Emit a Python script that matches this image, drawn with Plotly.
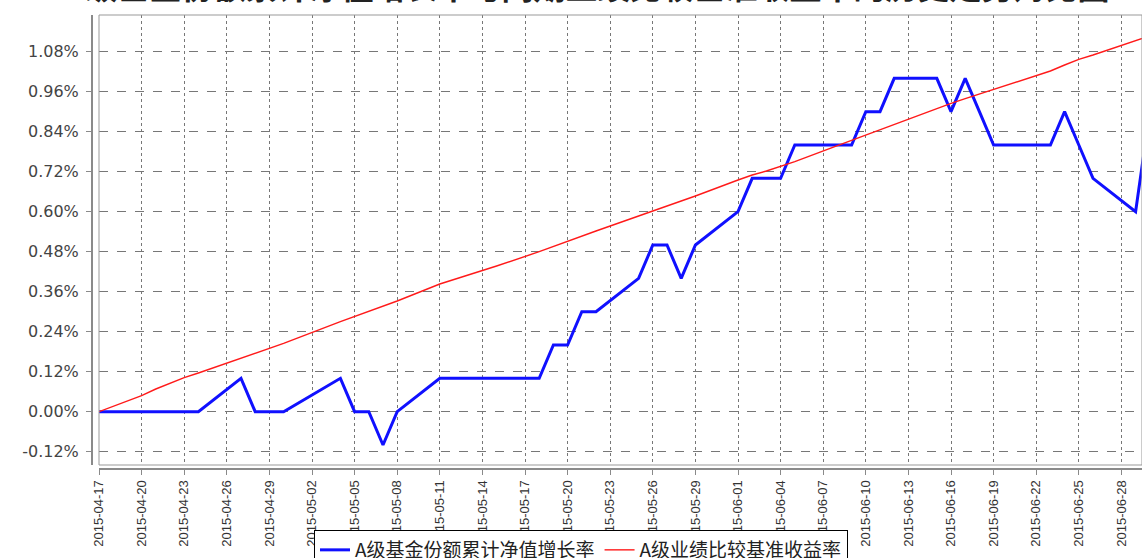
import plotly.graph_objects as go

# ---- data ----
dates = [
    "2015-04-17", "2015-04-20", "2015-04-21", "2015-04-22", "2015-04-23", "2015-04-24",
    "2015-04-27", "2015-04-28", "2015-04-29", "2015-04-30",
    "2015-05-04", "2015-05-05", "2015-05-06", "2015-05-07", "2015-05-08",
    "2015-05-11", "2015-05-12", "2015-05-13", "2015-05-14", "2015-05-15",
    "2015-05-18", "2015-05-19", "2015-05-20", "2015-05-21", "2015-05-22",
    "2015-05-25", "2015-05-26", "2015-05-27", "2015-05-28", "2015-05-29",
    "2015-06-01", "2015-06-02", "2015-06-03", "2015-06-04", "2015-06-05",
    "2015-06-08", "2015-06-09", "2015-06-10", "2015-06-11", "2015-06-12",
    "2015-06-15", "2015-06-16", "2015-06-17", "2015-06-18", "2015-06-19",
    "2015-06-23", "2015-06-24", "2015-06-25", "2015-06-26",
    "2015-06-29", "2015-06-30",
]

fund_nav_growth = [
    0.00, 0.00, 0.00, 0.00, 0.00, 0.00,
    0.10, 0.00, 0.00, 0.00,
    0.10, 0.00, 0.00, -0.10, 0.00,
    0.10, 0.10, 0.10, 0.10, 0.10,
    0.10, 0.20, 0.20, 0.30, 0.30,
    0.40, 0.50, 0.50, 0.40, 0.50,
    0.60, 0.70, 0.70, 0.70, 0.80,
    0.80, 0.80, 0.90, 0.90, 1.00,
    1.00, 0.90, 1.00, 0.90, 0.80,
    0.80, 0.90, 0.80, 0.70,
    0.60, 0.90,
]

benchmark_return = [
    0.000, 0.048, 0.068, 0.085, 0.102, 0.116,
    0.160, 0.174, 0.188, 0.205,
    0.270, 0.285, 0.301, 0.316, 0.332,
    0.383, 0.396, 0.410, 0.423, 0.437,
    0.480, 0.496, 0.512, 0.527, 0.542,
    0.587, 0.602, 0.617, 0.632, 0.647,
    0.695, 0.710, 0.722, 0.735, 0.750,
    0.798, 0.814, 0.830, 0.845, 0.860,
    0.908, 0.925, 0.939, 0.953, 0.967,
    1.022, 1.040, 1.057, 1.070,
    1.112, 1.127,
]

x_tick_labels = [
    "2015-04-17", "2015-04-20", "2015-04-23", "2015-04-26", "2015-04-29",
    "2015-05-02", "2015-05-05", "2015-05-08", "2015-05-11", "2015-05-14",
    "2015-05-17", "2015-05-20", "2015-05-23", "2015-05-26", "2015-05-29",
    "2015-06-01", "2015-06-04", "2015-06-07", "2015-06-10", "2015-06-13",
    "2015-06-16", "2015-06-19", "2015-06-22", "2015-06-25", "2015-06-28",
]

y_tick_values = [-0.12, 0.00, 0.12, 0.24, 0.36, 0.48, 0.60, 0.72, 0.84, 0.96, 1.08]
y_tick_labels = ["-0.12%", "0.00%", "0.12%", "0.24%", "0.36%", "0.48%",
                 "0.60%", "0.72%", "0.84%", "0.96%", "1.08%"]

series_names = ["A级基金份额累计净值增长率", "A级业绩比较基准收益率"]
title_text = "A级基金份额累计净值增长率与同期业绩比较基准收益率的历史走势对比图"

# ---- figure ----
W, H = 1142, 558
ML, MR, MT, MB = 92, 0, 15, 89
plot_w = W - ML - MR
plot_h = H - MT - MB
title_bottom_px = 10  # title box bottom, pixels from the top of the page

fig = go.Figure()
fig.add_trace(go.Scatter(
    x=dates, y=fund_nav_growth, mode="lines", name=series_names[0],
    line=dict(color="#1010ff", width=3),
))
fig.add_trace(go.Scatter(
    x=dates, y=benchmark_return, mode="lines", name=series_names[1],
    line=dict(color="#ff1a1a", width=1.4),
))

tick_font = dict(family="Liberation Sans, Arial, sans-serif", size=13, color="#333333")

fig.update_layout(
    width=W, height=H,
    margin=dict(l=ML, r=MR, t=MT, b=MB, autoexpand=False),
    paper_bgcolor="white", plot_bgcolor="white",
    showlegend=True,
    legend=dict(
        orientation="h",
        x=(581 - ML) / plot_w, xanchor="center",
        y=(MT + plot_h - 530) / plot_h, yanchor="top",
        bordercolor="#000000", borderwidth=1,
        bgcolor="white",
        font=dict(family="Noto Sans CJK SC", size=19, color="#222222"),
        itemwidth=30,
    ),
    xaxis=dict(
        type="date",
        domain=[7 / plot_w, 1],
        range=["2015-04-17", "2015-06-29 10:48"],
        anchor="free", position=0,
        automargin=False,
        showline=True, linecolor="#8a8a8a", linewidth=2,
        ticks="outside", ticklen=5, tickcolor="#8a8a8a", tickwidth=1,
        tickvals=x_tick_labels, ticktext=x_tick_labels,
        tickangle=-90, tickfont=tick_font,
        showgrid=True, gridcolor="#777777", griddash="dot", gridwidth=1,
        zeroline=False,
    ),
    yaxis=dict(
        domain=[4 / plot_h, 1],
        range=[-0.160, 1.190],
        anchor="free", position=0,
        automargin=False,
        showline=True, linecolor="#8a8a8a", linewidth=2,
        ticks="outside", ticklen=5, tickcolor="#8a8a8a", tickwidth=1,
        tickvals=y_tick_values, ticktext=y_tick_labels,
        ticklabelstandoff=4,
        tickfont=dict(family="DejaVu Sans, sans-serif", size=16, color="#444444"),
        showgrid=True, gridcolor="#777777", griddash="dash", gridwidth=1,
        zeroline=False,
    ),
    shapes=[dict(
        type="rect", xref="x domain", yref="y domain",
        x0=0, x1=1, y0=0, y1=1,
        line=dict(color="#999999", width=1), layer="above",
    )],
    annotations=[dict(
        text="<b>" + title_text + "</b>",
        xref="paper", yref="paper",
        x=(587 - ML) / plot_w, xanchor="center",
        y=1 + (MT - title_bottom_px) / plot_h, yanchor="bottom",
        showarrow=False,
        font=dict(family="Noto Sans CJK SC", size=32, color="#222222"),
    )],
)

fig.write_html(
    "out.html",
    config={"displayModeBar": False},
    post_script="document.body.style.margin='0';document.body.style.overflow='hidden';",
)
